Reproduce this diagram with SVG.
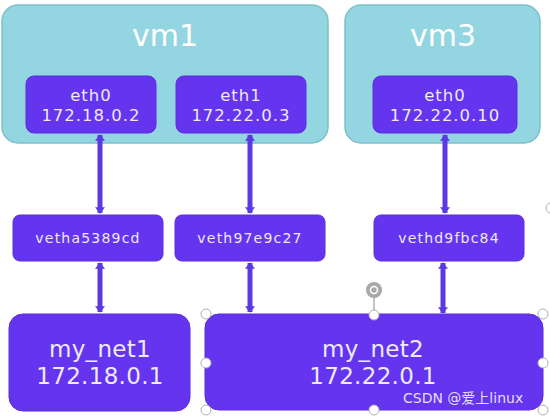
<svg xmlns="http://www.w3.org/2000/svg" width="550" height="416" viewBox="0 0 550 416">
<style>
.vm{fill:#93d6e2;stroke:#7fbfcb;stroke-width:1.5}
.n{fill:#6534ee;stroke:#5a2ed8;stroke-width:1}
.t{font-family:"DejaVu Sans",Verdana,sans-serif;fill:#eeeaff;text-anchor:middle}
.vt{font-size:30px;fill:#ffffff}
.et{font-size:16.5px;letter-spacing:1px}
.vv{font-size:14px;letter-spacing:1.2px}
.nt{font-size:23px;letter-spacing:0.3px}
.c{stroke:#5a38e2;stroke-width:5;fill:none;marker-start:url(#ah);marker-end:url(#ah)}
.h{fill:#ffffff;stroke:#b0b0b0;stroke-width:1}
</style>
<defs>
<marker id="ah" viewBox="0 0 10 10" refX="9" refY="5" markerWidth="1.3" markerHeight="2" orient="auto-start-reverse" markerUnits="strokeWidth" preserveAspectRatio="none">
<path d="M0,0 L10,5 L0,10 z" fill="#5a38e2"/>
</marker>
</defs>
<rect width="550" height="416" fill="#ffffff"/>
<g id="vm1">
<rect class="vm" x="2" y="5" width="326" height="138" rx="16"/>
<text class="t vt" x="165" y="46">vm1</text>
</g>
<g id="vm3">
<rect class="vm" x="345" y="5" width="195" height="138" rx="16"/>
<text class="t vt" x="443" y="46">vm3</text>
</g>
<g id="vm1-eth0">
<rect class="n" x="26" y="76" width="130" height="57" rx="8"/>
<text class="t et" x="91" y="101">eth0</text>
<text class="t et" x="91" y="121">172.18.0.2</text>
</g>
<g id="vm1-eth1">
<rect class="n" x="176" y="76" width="130" height="57" rx="8"/>
<text class="t et" x="241" y="101">eth1</text>
<text class="t et" x="241" y="121">172.22.0.3</text>
</g>
<g id="vm3-eth0">
<rect class="n" x="373" y="76" width="144" height="57" rx="8"/>
<text class="t et" x="445" y="101">eth0</text>
<text class="t et" x="445" y="121">172.22.0.10</text>
</g>
<g id="vetha5389cd">
<rect class="n" x="13" y="215" width="150" height="46" rx="7"/>
<text class="t vv" x="88" y="243">vetha5389cd</text>
</g>
<g id="veth97e9c27">
<rect class="n" x="175" y="215" width="150" height="46" rx="7"/>
<text class="t vv" x="250" y="243">veth97e9c27</text>
</g>
<g id="vethd9fbc84">
<rect class="n" x="374" y="215" width="150" height="46" rx="7"/>
<text class="t vv" x="449" y="243">vethd9fbc84</text>
</g>
<g id="my_net1">
<rect class="n" x="9" y="314" width="181" height="97" rx="14"/>
<text class="t nt" x="100" y="357">my_net1</text>
<text class="t nt" x="100" y="384">172.18.0.1</text>
</g>
<g id="my_net2">
<rect class="n" x="205" y="314" width="338" height="96" rx="14"/>
<text class="t nt" x="373" y="357">my_net2</text>
<text class="t nt" x="373" y="384">172.22.0.1</text>
</g>
<g id="connectors">
<line class="c" x1="100" y1="213" x2="100" y2="135"/>
<line class="c" x1="250" y1="213" x2="250" y2="135"/>
<line class="c" x1="445" y1="213" x2="445" y2="135"/>
<line class="c" x1="100" y1="263" x2="100" y2="312"/>
<line class="c" x1="250" y1="263" x2="250" y2="312"/>
<line class="c" x1="443" y1="263" x2="443" y2="313"/>
</g>
<g id="selection">
<line x1="374" y1="297" x2="374" y2="314" stroke="#b0b0b0" stroke-width="1.5"/>
<circle cx="374" cy="290" r="8" fill="#a8a8a8"/>
<circle cx="374" cy="290" r="3.5" fill="none" stroke="#ffffff" stroke-width="1.5"/>
<circle class="h" cx="206" cy="314" r="5"/>
<circle class="h" cx="374" cy="315" r="5"/>
<circle class="h" cx="543" cy="314" r="5"/>
<circle class="h" cx="206" cy="363" r="5"/>
<circle class="h" cx="543" cy="363" r="5"/>
<circle class="h" cx="206" cy="410" r="5"/>
<circle class="h" cx="374" cy="410" r="5"/>
<circle class="h" cx="543" cy="410" r="5"/>
<circle class="h" cx="551" cy="208" r="5"/>
</g>
<text x="403" y="403" font-family="'DejaVu Sans','Noto Sans CJK SC',sans-serif" font-size="14" fill="#ffffff" fill-opacity="0.85">CSDN @爱上linux</text>
</svg>
